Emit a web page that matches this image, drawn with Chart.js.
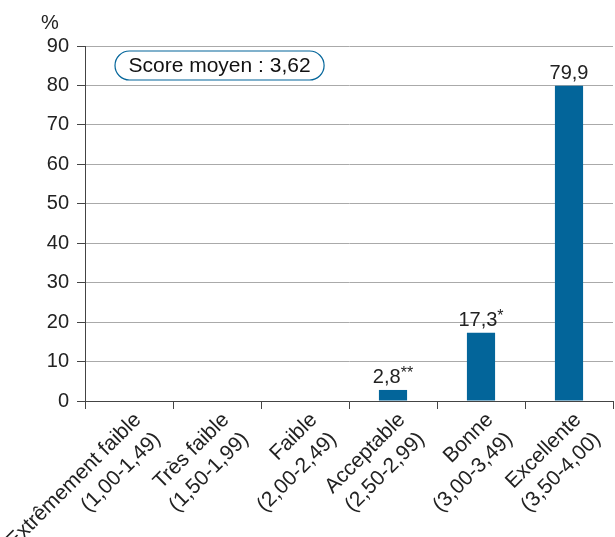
<!DOCTYPE html>
<html>
<head>
<meta charset="utf-8">
<script src="https://cdn.jsdelivr.net/npm/chart.js@4"></script>
<style>
  html, body { margin: 0; padding: 0; background: #fff; }
  #wrap { width: 615px; height: 537px; }
</style>
</head>
<body>
<div id="wrap"><canvas id="barChart" width="615" height="537"></canvas></div>
<script>
const categories = [
  ['Extrêmement faible', '(1,00-1,49)'],
  ['Très faible', '(1,50-1,99)'],
  ['Faible', '(2,00-2,49)'],
  ['Acceptable', '(2,50-2,99)'],
  ['Bonne', '(3,00-3,49)'],
  ['Excellente', '(3,50-4,00)']
];
const values = [0, 0, 0, 2.8, 17.3, 79.9];
const valueLabels = ['', '', '', '2,8', '17,3', '79,9'];
const valueMarks = ['', '', '', '**', '*', ''];
const scoreText = 'Score moyen : 3,62';

const FONT = '"Liberation Sans", Arial, Helvetica, sans-serif';
const BLUE = '#03659a';

// value labels above bars, with the asterisks set smaller and raised
const barLabels = {
  id: 'barLabels',
  afterDatasetsDraw(chart) {
    const ctx = chart.ctx;
    const meta = chart.getDatasetMeta(0);
    ctx.save();
    ctx.fillStyle = '#222';
    ctx.textBaseline = 'alphabetic';
    meta.data.forEach((bar, i) => {
      if (!valueLabels[i]) return;
      ctx.font = '20px ' + FONT;
      const w1 = ctx.measureText(valueLabels[i]).width;
      ctx.font = '16px ' + FONT;
      const w2 = ctx.measureText(valueMarks[i]).width;
      const x0 = bar.x - (w1 + w2) / 2;
      const y = bar.y - 7;
      ctx.textAlign = 'left';
      ctx.font = '20px ' + FONT;
      ctx.fillText(valueLabels[i], x0, y);
      ctx.font = '16px ' + FONT;
      ctx.fillText(valueMarks[i], x0 + w1, y - 5);
    });
    ctx.restore();
  }
};

// "%" title and the score box
const extras = {
  id: 'extras',
  afterDraw(chart) {
    const ctx = chart.ctx;
    const area = chart.chartArea;
    ctx.save();
    ctx.fillStyle = '#222';
    ctx.font = '20px ' + FONT;
    ctx.textAlign = 'center';
    ctx.textBaseline = 'alphabetic';
    ctx.fillText('%', 50, 29);

    ctx.font = '21px ' + FONT;
    const tw = ctx.measureText(scoreText).width;
    const bx = area.left + 30, by = area.top + 5, bh = 29;
    const bw = tw + 27;
    const r = bh / 2;
    ctx.beginPath();
    ctx.moveTo(bx + r, by);
    ctx.lineTo(bx + bw - r, by);
    ctx.arc(bx + bw - r, by + r, r, -Math.PI / 2, Math.PI / 2);
    ctx.lineTo(bx + r, by + bh);
    ctx.arc(bx + r, by + r, r, Math.PI / 2, Math.PI * 1.5);
    ctx.closePath();
    ctx.fillStyle = '#fff';
    ctx.fill();
    ctx.lineWidth = 1.2;
    ctx.strokeStyle = BLUE;
    ctx.stroke();
    ctx.fillStyle = '#111';
    ctx.textAlign = 'center';
    ctx.textBaseline = 'middle';
    ctx.fillText(scoreText, bx + bw / 2, by + bh / 2 + 1);
    ctx.restore();
  }
};

new Chart(document.getElementById('barChart').getContext('2d'), {
  type: 'bar',
  data: {
    labels: categories,
    datasets: [{
      data: values,
      backgroundColor: BLUE,
      categoryPercentage: 1,
      barPercentage: 0.32
    }]
  },
  options: {
    responsive: false,
    animation: false,
    layout: { padding: { top: 46, right: 2, left: 0, bottom: 0 } },
    plugins: {
      legend: { display: false },
      tooltip: { enabled: false }
    },
    scales: {
      x: {
        grid: {
          offset: true,
          drawOnChartArea: false,
          drawTicks: true,
          tickLength: 8,
          tickColor: '#444'
        },
        border: { color: '#444', width: 1 },
        ticks: {
          color: '#222',
          font: { family: FONT, size: 21, lineHeight: 1.3 },
          maxRotation: 45,
          minRotation: 45,
          padding: -2,
          labelOffset: 9
        },
        afterFit(scale) {
          scale.height = 136;
          scale.paddingLeft = 0;
          scale.paddingRight = 0;
        }
      },
      y: {
        min: 0,
        max: 90,
        ticks: {
          stepSize: 10,
          color: '#222',
          font: { family: FONT, size: 20 },
          padding: 8
        },
        grid: {
          color: '#aaa',
          tickColor: '#444',
          tickLength: 8
        },
        border: { color: '#444', width: 1 },
        afterFit(scale) { scale.width = 85; }
      }
    }
  },
  plugins: [barLabels, extras]
});
</script>
</body>
</html>
